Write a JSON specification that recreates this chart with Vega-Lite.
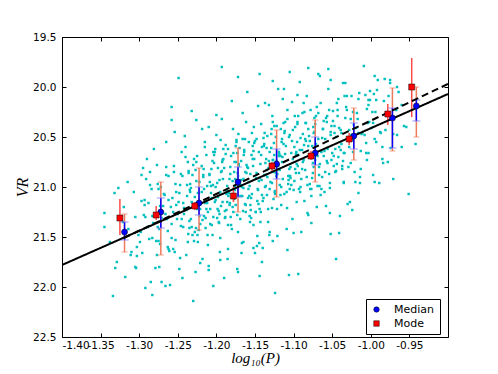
{
"$schema": "https://vega.github.io/schema/vega-lite/v6.json",
"width": 386, "height": 300,
"autosize": {"type": "none"},
"padding": {"left": 62, "top": 37, "right": 50, "bottom": 37},
"background": "white",
"config": {
  "view": {"stroke": "black", "strokeWidth": 1},
  "axis": {"grid": false, "domain": false, "labelFont": "DejaVu Sans", "labelFontSize": 10.5, "labelColor": "black", "tickColor": "black", "tickSize": -4, "tickWidth": 1, "labelPadding": 10, "labelOverlap": false},
  "legend": {"orient": "none", "legendX": 304, "legendY": 262, "strokeColor": "black", "fillColor": "white", "padding": 5, "labelFont": "DejaVu Sans", "labelFontSize": 11, "labelColor": "black", "labelOffset": 12, "rowPadding": 2, "symbolSize": 30, "symbolStrokeColor": "black", "symbolStrokeWidth": 0.5, "cornerRadius": 0}
},
"datasets": {
  "cloud": [
{"x":-1.314,"y":21.42},{"x":-1.307,"y":21.05},{"x":-1.311,"y":21.68},{"x":-1.305,"y":21.30},
{"x":-1.304,"y":21.81},{"x":-1.297,"y":21.14},{"x":-1.301,"y":21.48},{"x":-1.295,"y":20.81},{"x":-1.303,"y":21.69},
{"x":-1.294,"y":21.28},{"x":-1.287,"y":21.52},{"x":-1.291,"y":20.92},{"x":-1.285,"y":21.95},{"x":-1.293,"y":21.18},{"x":-1.289,"y":21.40},
{"x":-1.284,"y":21.02},{"x":-1.277,"y":21.68},{"x":-1.281,"y":20.62},{"x":-1.275,"y":21.54},{"x":-1.283,"y":21.29},{"x":-1.279,"y":21.81},{"x":-1.276,"y":20.97},
{"x":-1.274,"y":21.42},{"x":-1.267,"y":21.08},{"x":-1.271,"y":21.31},{"x":-1.265,"y":20.80},{"x":-1.273,"y":21.57},{"x":-1.269,"y":21.19},{"x":-1.266,"y":21.99},{"x":-1.275,"y":21.02},
{"x":-1.264,"y":21.32},{"x":-1.257,"y":21.11},{"x":-1.261,"y":21.64},{"x":-1.255,"y":20.85},{"x":-1.263,"y":21.44},{"x":-1.259,"y":21.20},{"x":-1.256,"y":21.25},{"x":-1.265,"y":20.88},{"x":-1.258,"y":21.51},{"x":-1.262,"y":21.13},
{"x":-1.254,"y":21.65},{"x":-1.247,"y":20.98},{"x":-1.251,"y":21.32},{"x":-1.245,"y":20.65},{"x":-1.253,"y":21.53},{"x":-1.249,"y":21.15},{"x":-1.246,"y":21.39},{"x":-1.255,"y":20.79},{"x":-1.248,"y":21.82},{"x":-1.252,"y":21.05},{"x":-1.250,"y":21.27},
{"x":-1.244,"y":20.89},{"x":-1.237,"y":21.55},{"x":-1.241,"y":20.49},{"x":-1.235,"y":21.41},{"x":-1.243,"y":21.16},{"x":-1.239,"y":21.68},{"x":-1.236,"y":20.84},{"x":-1.245,"y":21.32},{"x":-1.238,"y":20.98},{"x":-1.242,"y":21.21},{"x":-1.240,"y":20.70},{"x":-1.2365,"y":21.47},
{"x":-1.234,"y":21.05},{"x":-1.227,"y":21.85},{"x":-1.231,"y":20.88},{"x":-1.225,"y":21.22},{"x":-1.233,"y":21.01},{"x":-1.229,"y":21.54},{"x":-1.226,"y":20.75},{"x":-1.235,"y":21.34},{"x":-1.228,"y":21.10},{"x":-1.232,"y":21.15},{"x":-1.230,"y":20.78},{"x":-1.2265,"y":21.41},{"x":-1.2345,"y":21.03},
{"x":-1.224,"y":21.55},{"x":-1.217,"y":20.88},{"x":-1.221,"y":21.22},{"x":-1.215,"y":20.55},{"x":-1.223,"y":21.43},{"x":-1.219,"y":21.05},{"x":-1.216,"y":21.29},{"x":-1.225,"y":20.69},{"x":-1.218,"y":21.72},{"x":-1.222,"y":20.95},{"x":-1.220,"y":21.17},{"x":-1.2165,"y":20.82},{"x":-1.2245,"y":21.48},{"x":-1.2185,"y":20.42},
{"x":-1.214,"y":21.31},{"x":-1.207,"y":21.06},{"x":-1.211,"y":21.58},{"x":-1.205,"y":20.74},{"x":-1.213,"y":21.22},{"x":-1.209,"y":20.88},{"x":-1.206,"y":21.11},{"x":-1.215,"y":20.60},{"x":-1.208,"y":21.37},{"x":-1.212,"y":20.99},{"x":-1.210,"y":21.79},{"x":-1.2065,"y":20.82},{"x":-1.2145,"y":21.16},{"x":-1.2085,"y":20.95},{"x":-1.2115,"y":21.48},
{"x":-1.204,"y":20.65},{"x":-1.197,"y":21.24},{"x":-1.201,"y":21.00},{"x":-1.195,"y":21.05},{"x":-1.203,"y":20.68},{"x":-1.199,"y":21.31},{"x":-1.196,"y":20.93},{"x":-1.205,"y":21.48},{"x":-1.198,"y":20.81},{"x":-1.202,"y":21.15},{"x":-1.200,"y":20.48},{"x":-1.1965,"y":21.36},{"x":-1.2045,"y":20.98},{"x":-1.1985,"y":21.22},{"x":-1.2015,"y":20.62},{"x":-1.1955,"y":21.65},
{"x":-1.194,"y":20.85},{"x":-1.187,"y":21.07},{"x":-1.191,"y":20.72},{"x":-1.185,"y":21.38},{"x":-1.193,"y":20.32},{"x":-1.189,"y":21.24},{"x":-1.186,"y":20.99},{"x":-1.195,"y":21.51},{"x":-1.188,"y":20.67},{"x":-1.192,"y":21.15},{"x":-1.190,"y":20.81},{"x":-1.1865,"y":21.04},{"x":-1.1945,"y":20.53},{"x":-1.1885,"y":21.30},{"x":-1.1915,"y":20.92},{"x":-1.1855,"y":21.72},{"x":-1.1925,"y":20.75},
{"x":-1.184,"y":21.06},{"x":-1.177,"y":20.85},{"x":-1.181,"y":21.38},{"x":-1.175,"y":20.59},{"x":-1.183,"y":21.18},{"x":-1.179,"y":20.94},{"x":-1.176,"y":20.99},{"x":-1.185,"y":20.62},{"x":-1.178,"y":21.25},{"x":-1.182,"y":20.87},{"x":-1.180,"y":21.42},{"x":-1.1765,"y":20.75},{"x":-1.1845,"y":21.09},{"x":-1.1785,"y":20.42},{"x":-1.1815,"y":21.30},{"x":-1.1755,"y":20.92},{"x":-1.1825,"y":21.16},
{"x":-1.174,"y":20.53},{"x":-1.167,"y":21.56},{"x":-1.171,"y":20.79},{"x":-1.165,"y":21.01},{"x":-1.173,"y":20.66},{"x":-1.169,"y":21.32},{"x":-1.166,"y":20.26},{"x":-1.175,"y":21.18},{"x":-1.168,"y":20.93},{"x":-1.172,"y":21.45},{"x":-1.170,"y":20.61},{"x":-1.1665,"y":21.09},{"x":-1.1745,"y":20.75},{"x":-1.1685,"y":20.98},{"x":-1.1715,"y":20.47},{"x":-1.1655,"y":21.24},{"x":-1.1725,"y":20.86},{"x":-1.1675,"y":21.66},
{"x":-1.164,"y":20.65},{"x":-1.157,"y":20.99},{"x":-1.161,"y":20.78},{"x":-1.155,"y":21.31},{"x":-1.163,"y":20.52},{"x":-1.159,"y":21.11},{"x":-1.156,"y":20.87},{"x":-1.165,"y":20.92},{"x":-1.158,"y":20.55},{"x":-1.162,"y":21.18},{"x":-1.160,"y":20.80},{"x":-1.1565,"y":21.35},{"x":-1.1645,"y":20.68},{"x":-1.1585,"y":21.02},{"x":-1.1615,"y":20.35},{"x":-1.1555,"y":21.23},{"x":-1.1625,"y":20.85},{"x":-1.1575,"y":21.09},
{"x":-1.154,"y":20.46},{"x":-1.147,"y":21.49},{"x":-1.151,"y":20.72},{"x":-1.145,"y":20.94},{"x":-1.153,"y":20.59},{"x":-1.149,"y":21.25},{"x":-1.146,"y":20.19},{"x":-1.155,"y":21.11},{"x":-1.148,"y":20.86},{"x":-1.152,"y":21.38},{"x":-1.150,"y":20.54},{"x":-1.1465,"y":21.02},{"x":-1.1545,"y":20.68},{"x":-1.1485,"y":20.91},{"x":-1.1515,"y":20.40},{"x":-1.1455,"y":21.17},{"x":-1.1525,"y":20.79},{"x":-1.1475,"y":21.59},
{"x":-1.144,"y":21.22},{"x":-1.137,"y":20.16},{"x":-1.141,"y":21.08},{"x":-1.135,"y":20.83},{"x":-1.143,"y":21.35},{"x":-1.139,"y":20.51},{"x":-1.136,"y":20.99},{"x":-1.145,"y":20.65},{"x":-1.138,"y":20.88},{"x":-1.142,"y":20.37},{"x":-1.140,"y":21.14},{"x":-1.1365,"y":20.76},{"x":-1.1445,"y":21.56},{"x":-1.1385,"y":20.59},{"x":-1.1415,"y":20.93},{"x":-1.1355,"y":20.72},{"x":-1.1425,"y":21.25},{"x":-1.1375,"y":20.46},
{"x":-1.134,"y":20.90},{"x":-1.127,"y":20.35},{"x":-1.131,"y":21.02},{"x":-1.125,"y":20.68},{"x":-1.133,"y":21.35},{"x":-1.129,"y":20.47},{"x":-1.126,"y":20.85},{"x":-1.135,"y":20.61},{"x":-1.128,"y":21.21},{"x":-1.132,"y":20.18},{"x":-1.130,"y":20.95},{"x":-1.1265,"y":20.73},{"x":-1.1345,"y":21.08},{"x":-1.1285,"y":20.42},{"x":-1.1315,"y":21.48},{"x":-1.1255,"y":20.56},{"x":-1.1325,"y":20.81},{"x":-1.1275,"y":20.29},
{"x":-1.124,"y":21.07},{"x":-1.117,"y":20.69},{"x":-1.121,"y":21.49},{"x":-1.115,"y":20.52},{"x":-1.123,"y":20.86},{"x":-1.119,"y":20.65},{"x":-1.116,"y":21.18},{"x":-1.125,"y":20.39},{"x":-1.118,"y":20.98},{"x":-1.122,"y":20.74},{"x":-1.120,"y":20.79},{"x":-1.1165,"y":20.42},{"x":-1.1245,"y":21.05},{"x":-1.1185,"y":20.67},{"x":-1.1215,"y":21.22},{"x":-1.1155,"y":20.55},{"x":-1.1225,"y":20.89},
{"x":-1.114,"y":20.12},{"x":-1.107,"y":20.89},{"x":-1.111,"y":20.67},{"x":-1.105,"y":21.02},{"x":-1.113,"y":20.36},{"x":-1.109,"y":21.42},{"x":-1.106,"y":20.50},{"x":-1.115,"y":20.75},{"x":-1.108,"y":20.23},{"x":-1.112,"y":21.07},{"x":-1.110,"y":20.59},{"x":-1.1065,"y":20.93},{"x":-1.1145,"y":20.70},{"x":-1.1085,"y":21.21},{"x":-1.1115,"y":20.44},{"x":-1.1055,"y":20.82},{"x":-1.1125,"y":20.02},
{"x":-1.104,"y":20.91},{"x":-1.097,"y":20.67},{"x":-1.101,"y":20.72},{"x":-1.095,"y":20.35},{"x":-1.103,"y":20.98},{"x":-1.099,"y":20.60},{"x":-1.096,"y":21.15},{"x":-1.105,"y":20.48},{"x":-1.098,"y":20.82},{"x":-1.102,"y":20.15},{"x":-1.100,"y":21.03},{"x":-1.0965,"y":20.65},{"x":-1.1045,"y":20.89},{"x":-1.0985,"y":20.29},{"x":-1.1015,"y":21.32},{"x":-1.0955,"y":20.55},
{"x":-1.094,"y":20.68},{"x":-1.087,"y":20.16},{"x":-1.091,"y":21.00},{"x":-1.085,"y":20.52},{"x":-1.093,"y":20.86},{"x":-1.089,"y":20.63},{"x":-1.086,"y":21.14},{"x":-1.095,"y":20.37},{"x":-1.088,"y":20.75},{"x":-1.092,"y":19.95},{"x":-1.090,"y":20.92},{"x":-1.0865,"y":20.58},{"x":-1.0945,"y":20.79},{"x":-1.0885,"y":20.26},{"x":-1.0915,"y":21.05},
{"x":-1.084,"y":20.54},{"x":-1.077,"y":21.09},{"x":-1.081,"y":20.42},{"x":-1.075,"y":20.76},{"x":-1.083,"y":20.09},{"x":-1.079,"y":20.97},{"x":-1.076,"y":20.59},{"x":-1.085,"y":20.83},{"x":-1.078,"y":20.23},{"x":-1.082,"y":21.26},{"x":-1.080,"y":20.49},{"x":-1.0765,"y":20.71},{"x":-1.0845,"y":20.36},{"x":-1.0785,"y":21.02},
{"x":-1.074,"y":20.46},{"x":-1.067,"y":20.80},{"x":-1.071,"y":20.57},{"x":-1.065,"y":21.08},{"x":-1.073,"y":20.31},{"x":-1.069,"y":20.69},{"x":-1.066,"y":19.89},{"x":-1.075,"y":20.86},{"x":-1.068,"y":20.52},{"x":-1.072,"y":20.73},{"x":-1.070,"y":20.20},{"x":-1.0665,"y":20.99},{"x":-1.0745,"y":20.40},
{"x":-1.064,"y":21.02},{"x":-1.057,"y":20.35},{"x":-1.061,"y":20.69},{"x":-1.055,"y":20.02},{"x":-1.063,"y":20.90},{"x":-1.059,"y":20.52},{"x":-1.056,"y":20.76},{"x":-1.065,"y":20.16},{"x":-1.058,"y":21.19},{"x":-1.062,"y":20.42},{"x":-1.060,"y":20.64},{"x":-1.0565,"y":20.29},
{"x":-1.054,"y":20.87},{"x":-1.047,"y":20.39},{"x":-1.051,"y":20.73},{"x":-1.045,"y":20.50},{"x":-1.053,"y":21.01},{"x":-1.049,"y":20.24},{"x":-1.046,"y":20.62},{"x":-1.055,"y":19.82},{"x":-1.048,"y":20.79},{"x":-1.052,"y":20.45},{"x":-1.050,"y":20.66},
{"x":-1.044,"y":20.16},{"x":-1.037,"y":20.79},{"x":-1.041,"y":20.41},{"x":-1.035,"y":20.96},{"x":-1.043,"y":20.29},{"x":-1.039,"y":20.63},{"x":-1.036,"y":19.96},{"x":-1.045,"y":20.84},{"x":-1.038,"y":20.46},{"x":-1.042,"y":20.70},
{"x":-1.034,"y":20.09},{"x":-1.027,"y":21.15},{"x":-1.031,"y":20.23},{"x":-1.025,"y":20.48},{"x":-1.033,"y":19.96},{"x":-1.029,"y":20.80},{"x":-1.026,"y":20.32},{"x":-1.035,"y":20.66},{"x":-1.028,"y":20.43},
{"x":-1.024,"y":20.53},{"x":-1.017,"y":20.32},{"x":-1.021,"y":20.85},{"x":-1.015,"y":20.06},{"x":-1.023,"y":20.65},{"x":-1.019,"y":20.41},{"x":-1.016,"y":20.46},{"x":-1.025,"y":20.09},
{"x":-1.014,"y":20.96},{"x":-1.007,"y":20.08},{"x":-1.011,"y":20.46},{"x":-1.005,"y":20.22},{"x":-1.013,"y":20.82},{"x":-1.009,"y":19.79},{"x":-1.006,"y":20.56},
{"x":-1.004,"y":20.36},{"x":-0.997,"y":20.88},{"x":-1.001,"y":20.04},{"x":-0.995,"y":20.52},{"x":-1.003,"y":20.18},{"x":-0.999,"y":20.41},
{"x":-0.994,"y":20.25},{"x":-0.987,"y":20.46},{"x":-0.991,"y":19.93},{"x":-0.985,"y":20.72},{"x":-0.993,"y":20.13},
{"x":-0.984,"y":20.76},{"x":-0.977,"y":20.09},{"x":-0.981,"y":20.43},{"x":-0.975,"y":19.96},
{"x":-0.974,"y":20.61},{"x":-0.967,"y":20.23},{"x":-0.971,"y":20.47},
{"x":-0.964,"y":20.05},{"x":-0.957,"y":20.39},
{"x":-1.238,"y":21.09},{"x":-1.233,"y":21.32},{"x":-1.236,"y":20.86},{"x":-1.231,"y":21.48},{"x":-1.239,"y":21.23},{"x":-1.234,"y":20.97},{"x":-1.232,"y":21.40},{"x":-1.237,"y":20.75},
{"x":-1.228,"y":21.45},{"x":-1.223,"y":21.20},{"x":-1.226,"y":20.94},{"x":-1.221,"y":21.37},{"x":-1.229,"y":20.72},{"x":-1.224,"y":21.06},{"x":-1.222,"y":21.29},{"x":-1.227,"y":20.83},
{"x":-1.218,"y":21.33},{"x":-1.213,"y":20.68},{"x":-1.216,"y":21.02},{"x":-1.211,"y":21.25},{"x":-1.219,"y":20.79},{"x":-1.214,"y":21.41},{"x":-1.212,"y":21.16},{"x":-1.217,"y":20.90},
{"x":-1.208,"y":21.22},{"x":-1.203,"y":20.76},{"x":-1.206,"y":21.38},{"x":-1.201,"y":21.13},{"x":-1.209,"y":20.87},{"x":-1.204,"y":21.30},{"x":-1.202,"y":20.65},{"x":-1.207,"y":20.99},
{"x":-1.198,"y":21.10},{"x":-1.193,"y":20.84},{"x":-1.196,"y":21.27},{"x":-1.191,"y":20.62},{"x":-1.199,"y":20.96},{"x":-1.194,"y":21.19},{"x":-1.192,"y":20.73},{"x":-1.197,"y":21.35},
{"x":-1.188,"y":20.58},{"x":-1.183,"y":20.92},{"x":-1.186,"y":21.15},{"x":-1.181,"y":20.69},{"x":-1.189,"y":21.31},{"x":-1.184,"y":21.06},{"x":-1.182,"y":20.80},{"x":-1.187,"y":21.23},
{"x":-1.178,"y":20.66},{"x":-1.173,"y":21.28},{"x":-1.176,"y":21.03},{"x":-1.171,"y":20.77},{"x":-1.179,"y":21.20},{"x":-1.174,"y":20.55},{"x":-1.172,"y":20.89},{"x":-1.177,"y":21.12},
{"x":-1.168,"y":20.74},{"x":-1.163,"y":21.17},{"x":-1.166,"y":20.52},{"x":-1.161,"y":20.86},{"x":-1.169,"y":21.09},{"x":-1.164,"y":20.63},{"x":-1.162,"y":21.25},{"x":-1.167,"y":21.00},
{"x":-1.158,"y":20.95},{"x":-1.153,"y":20.72},{"x":-1.156,"y":21.18},{"x":-1.151,"y":20.56},{"x":-1.159,"y":20.81},{"x":-1.154,"y":21.07},{"x":-1.152,"y":20.64},{"x":-1.157,"y":21.29},
{"x":-1.148,"y":20.52},{"x":-1.143,"y":20.77},{"x":-1.146,"y":21.03},{"x":-1.141,"y":20.60},{"x":-1.149,"y":21.25},{"x":-1.144,"y":20.91},{"x":-1.142,"y":20.68},{"x":-1.147,"y":21.14},
{"x":-1.138,"y":20.57},{"x":-1.133,"y":21.22},{"x":-1.136,"y":20.88},{"x":-1.131,"y":20.65},{"x":-1.139,"y":21.11},{"x":-1.134,"y":20.49},{"x":-1.132,"y":20.74},{"x":-1.137,"y":21.00},
{"x":-1.128,"y":20.96},{"x":-1.123,"y":20.50},{"x":-1.126,"y":21.12},{"x":-1.121,"y":20.87},{"x":-1.129,"y":20.61},{"x":-1.124,"y":21.04},{"x":-1.122,"y":20.39},{"x":-1.127,"y":20.73},
{"x":-1.118,"y":20.83},{"x":-1.113,"y":20.57},{"x":-1.116,"y":21.00},{"x":-1.111,"y":20.35},{"x":-1.119,"y":20.69},{"x":-1.114,"y":20.92},{"x":-1.112,"y":20.46},{"x":-1.117,"y":21.08},
{"x":-1.108,"y":20.32},{"x":-1.103,"y":20.66},{"x":-1.106,"y":20.89},{"x":-1.101,"y":20.43},{"x":-1.109,"y":21.05},{"x":-1.104,"y":20.80},{"x":-1.102,"y":20.54},{"x":-1.107,"y":20.97},
{"x":-1.098,"y":20.40},{"x":-1.093,"y":21.02},{"x":-1.096,"y":20.77},{"x":-1.091,"y":20.51},{"x":-1.099,"y":20.94},{"x":-1.094,"y":20.29},{"x":-1.092,"y":20.63},{"x":-1.097,"y":20.86},
{"x":-1.088,"y":20.47},{"x":-1.083,"y":20.90},{"x":-1.086,"y":20.25},{"x":-1.081,"y":20.59},{"x":-1.089,"y":20.82},{"x":-1.084,"y":20.36},{"x":-1.082,"y":20.98},{"x":-1.087,"y":20.73},
{"x":-1.078,"y":20.68},{"x":-1.073,"y":20.45},{"x":-1.076,"y":20.91},{"x":-1.071,"y":20.29},{"x":-1.079,"y":20.54},{"x":-1.074,"y":20.80},{"x":-1.072,"y":20.37},{"x":-1.077,"y":21.02},
{"x":-1.068,"y":20.26},{"x":-1.063,"y":20.51},{"x":-1.066,"y":20.77},{"x":-1.061,"y":20.34},{"x":-1.069,"y":20.99},{"x":-1.064,"y":20.65},{"x":-1.062,"y":20.42},{"x":-1.067,"y":20.88},
{"x":-1.058,"y":20.31},{"x":-1.053,"y":20.96},{"x":-1.056,"y":20.62},{"x":-1.051,"y":20.39},{"x":-1.059,"y":20.85},{"x":-1.054,"y":20.23},{"x":-1.052,"y":20.48},{"x":-1.057,"y":20.74},
{"x":-1.048,"y":20.69},{"x":-1.043,"y":20.23},{"x":-1.046,"y":20.85},{"x":-1.041,"y":20.60},{"x":-1.049,"y":20.34},{"x":-1.044,"y":20.77},{"x":-1.042,"y":20.12},{"x":-1.047,"y":20.46},
{"x":-1.038,"y":20.57},{"x":-1.033,"y":20.31},{"x":-1.036,"y":20.74},{"x":-1.031,"y":20.09},{"x":-1.039,"y":20.43},{"x":-1.034,"y":20.66},{"x":-1.032,"y":20.20},{"x":-1.037,"y":20.82},
{"x":-1.298,"y":21.45},{"x":-1.293,"y":21.13},{"x":-1.296,"y":21.66},{"x":-1.292,"y":21.30},
{"x":-1.288,"y":21.16},{"x":-1.283,"y":21.51},{"x":-1.286,"y":20.98},{"x":-1.282,"y":21.36},
{"x":-1.278,"y":21.54},{"x":-1.273,"y":21.19},{"x":-1.276,"y":21.40},{"x":-1.272,"y":21.00},
{"x":-1.268,"y":21.07},{"x":-1.263,"y":21.60},{"x":-1.266,"y":21.27},{"x":-1.262,"y":20.89},
{"x":-1.258,"y":21.37},{"x":-1.253,"y":20.97},{"x":-1.256,"y":21.62},{"x":-1.252,"y":21.18},
{"x":-1.248,"y":21.06},{"x":-1.243,"y":21.40},{"x":-1.246,"y":20.87},{"x":-1.242,"y":21.27},
{"x":-1.028,"y":20.60},{"x":-1.023,"y":20.25},{"x":-1.026,"y":20.76},{"x":-1.022,"y":20.38},
{"x":-1.018,"y":20.26},{"x":-1.013,"y":20.64},{"x":-1.016,"y":20.12},{"x":-1.012,"y":20.47},
{"x":-1.008,"y":20.48},{"x":-1.003,"y":20.13},{"x":-1.006,"y":20.66},{"x":-1.002,"y":20.35},
{"x":-0.998,"y":20.25},{"x":-0.993,"y":20.55},{"x":-0.996,"y":20.07},
{"x":-0.988,"y":20.45},{"x":-0.983,"y":20.14},
{"x":-1.193,"y":19.80},{"x":-1.105,"y":19.85},{"x":-1.081,"y":19.81},{"x":-1.172,"y":19.90},{"x":-1.249,"y":19.91},{"x":-1.144,"y":19.87},{"x":-1.127,"y":19.94},{"x":-1.068,"y":19.87},{"x":-1.052,"y":19.93},{"x":-0.995,"y":19.89},{"x":-0.982,"y":19.92},{"x":-1.180,"y":20.14},{"x":-1.258,"y":20.20},{"x":-1.258,"y":20.33},{"x":-1.286,"y":20.85},{"x":-1.297,"y":20.88},{"x":-1.277,"y":20.78},{"x":-1.290,"y":20.72},{"x":-1.254,"y":20.45},{"x":-1.232,"y":20.24},{"x":-1.226,"y":20.33},
{"x":-1.345,"y":21.26},{"x":-1.332,"y":21.06},{"x":-1.327,"y":21.01},{"x":-1.331,"y":21.81},{"x":-1.329,"y":21.75},{"x":-1.334,"y":22.09},{"x":-1.292,"y":22.01},{"x":-1.283,"y":22.08},{"x":-1.271,"y":21.95},{"x":-1.260,"y":21.98},{"x":-1.244,"y":21.91},{"x":-1.230,"y":22.14},{"x":-1.204,"y":21.99},{"x":-1.210,"y":21.83},{"x":-1.190,"y":21.91},{"x":-1.173,"y":21.82},{"x":-1.172,"y":21.85},{"x":-1.303,"y":21.60},{"x":-1.299,"y":21.55},{"x":-1.310,"y":21.65},{"x":-1.274,"y":21.80},{"x":-1.247,"y":21.71},{"x":-1.221,"y":21.76},{"x":-1.195,"y":21.73},
{"x":-1.124,"y":22.06},{"x":-1.144,"y":21.89},{"x":-1.106,"y":21.88},{"x":-1.094,"y":21.87},{"x":-1.141,"y":21.75},{"x":-1.108,"y":21.63},{"x":-1.045,"y":21.72},{"x":-1.052,"y":21.47},{"x":-1.041,"y":21.46},{"x":-1.150,"y":21.66},{"x":-1.152,"y":21.61},{"x":-1.140,"y":21.61},{"x":-0.951,"y":21.07},{"x":-1.040,"y":21.29},{"x":-1.024,"y":21.23},{"x":-1.030,"y":21.17},{"x":-1.016,"y":21.06},{"x":-0.995,"y":20.95},{"x":-1.053,"y":21.26},{"x":-1.077,"y":21.36},{"x":-1.081,"y":21.28},{"x":-1.100,"y":21.46},{"x":-1.127,"y":21.54},{"x":-1.131,"y":21.45},
{"x":-0.942,"y":20.57},{"x":-0.971,"y":20.92},{"x":-0.960,"y":20.60},{"x":-0.966,"y":20.48},{"x":-0.954,"y":20.40},{"x":-0.975,"y":19.93},{"x":-0.966,"y":20.00},{"x":-0.960,"y":20.18},{"x":-0.992,"y":20.03},{"x":-1.001,"y":20.13},{"x":-0.989,"y":20.96},{"x":-1.005,"y":20.73},{"x":-1.014,"y":20.90},{"x":-1.003,"y":20.66},{"x":-0.997,"y":20.36},
{"x":-1.160,"y":20.05},{"x":-1.120,"y":20.02},{"x":-1.095,"y":20.08},{"x":-1.210,"y":20.40},{"x":-1.200,"y":20.28},{"x":-1.240,"y":20.60},{"x":-1.265,"y":20.55},{"x":-1.315,"y":20.95},{"x":-1.320,"y":21.20},{"x":-1.321,"y":21.35},{"x":-1.338,"y":21.55},{"x":-1.345,"y":21.40},{"x":-1.318,"y":21.90},{"x":-1.305,"y":21.80},{"x":-1.262,"y":21.62},{"x":-1.185,"y":21.62},{"x":-1.165,"y":21.55},{"x":-1.090,"y":21.45},{"x":-1.060,"y":21.05},{"x":-1.035,"y":20.95},{"x":-1.070,"y":21.20},{"x":-1.020,"y":20.95},{"x":-0.985,"y":20.60},{"x":-0.978,"y":20.75}
  ],
  "stats": [
{"kind":"Median","x":-1.319,"y":21.45,"lo":21.35,"hi":21.53,"slo":21.27,"shi":21.65},
{"kind":"Median","x":-1.272,"y":21.25,"lo":21.11,"hi":21.41,"slo":20.95,"shi":21.68},
{"kind":"Median","x":-1.2225,"y":21.16,"lo":21.00,"hi":21.28,"slo":20.81,"shi":21.43},
{"kind":"Median","x":-1.172,"y":20.95,"lo":20.80,"hi":21.10,"slo":20.61,"shi":21.25},
{"kind":"Median","x":-1.122,"y":20.77,"lo":20.62,"hi":20.92,"slo":20.43,"shi":21.10},
{"kind":"Median","x":-1.072,"y":20.66,"lo":20.50,"hi":20.78,"slo":20.33,"shi":20.95},
{"kind":"Median","x":-1.022,"y":20.49,"lo":20.36,"hi":20.62,"slo":20.21,"shi":20.73},
{"kind":"Median","x":-0.972,"y":20.31,"lo":20.21,"hi":20.61,"slo":20.01,"shi":20.64},
{"kind":"Median","x":-0.941,"y":20.19,"lo":20.13,"hi":20.34,"slo":20.00,"shi":20.50},
{"kind":"Mode","x":-1.325,"y":21.31,"lo":21.12,"hi":21.48},
{"kind":"Mode","x":-1.278,"y":21.28,"lo":21.19,"hi":21.33},
{"kind":"Mode","x":-1.228,"y":21.19,"lo":21.15,"hi":21.23},
{"kind":"Mode","x":-1.178,"y":21.09,"lo":21.00,"hi":21.15},
{"kind":"Mode","x":-1.128,"y":20.79,"lo":20.75,"hi":20.84},
{"kind":"Mode","x":-1.0775,"y":20.69,"lo":20.64,"hi":20.73},
{"kind":"Mode","x":-1.028,"y":20.52,"lo":20.46,"hi":20.58},
{"kind":"Mode","x":-0.978,"y":20.27,"lo":20.17,"hi":20.38},
{"kind":"Mode","x":-0.947,"y":20.00,"lo":19.71,"hi":20.30}
  ],
  "fits": [
{"line":"fit","x":-1.40,"y":21.78},{"line":"fit","x":-0.90,"y":20.07},
{"line":"dash","x":-1.32,"y":21.51},{"line":"dash","x":-0.90,"y":19.97}
  ]
},
"resolve": {"axis": {"x": "independent", "y": "independent"}},
"layer": [
  {
    "data": {"name": "cloud"},
    "mark": {"type": "square", "filled": true, "size": 6, "color": "#00BFBF", "opacity": 1, "clip": true},
    "encoding": {
      "x": {"field": "x", "type": "quantitative", "scale": {"domain": [-1.4, -0.9], "nice": false, "zero": false},
        "axis": {"orient": "bottom", "values": [-1.4, -1.35, -1.3, -1.25, -1.2, -1.15, -1.1, -1.05, -1.0, -0.95], "labelExpr": "replace(format(datum.value, '.2f'), '−', '-')", "labelPadding": 7, "title": "log₁₀(P)", "titleFont": "Liberation Serif", "titleFontStyle": "italic", "titleFontWeight": "normal", "titleFontSize": 15, "titleColor": "black", "titlePadding": 0}},
      "y": {"field": "y", "type": "quantitative", "scale": {"domain": [19.5, 22.5], "reverse": true, "nice": false, "zero": false},
        "axis": {"orient": "left", "values": [19.5, 20, 20.5, 21, 21.5, 22, 22.5], "format": ".1f", "title": "VR", "titleFont": "Liberation Serif", "titleFontStyle": "italic", "titleFontWeight": "normal", "titleFontSize": 16, "titleColor": "black", "titlePadding": 2}}
    }
  },
  {
    "data": {"name": "stats"},
    "transform": [{"filter": "datum.kind == 'Median'"}],
    "mark": {"type": "rule", "color": "#EC7A5C", "strokeWidth": 1.5},
    "encoding": {"x": {"field": "x", "type": "quantitative", "axis": null}, "y": {"field": "slo", "type": "quantitative", "axis": null}, "y2": {"field": "shi"}}
  },
  {
    "data": {"name": "stats"},
    "transform": [{"filter": "datum.kind == 'Median'"}],
    "mark": {"type": "tick", "orient": "horizontal", "color": "#EC7A5C", "size": 6, "thickness": 1},
    "encoding": {"x": {"field": "x", "type": "quantitative", "axis": null}, "y": {"field": "slo", "type": "quantitative", "axis": null}}
  },
  {
    "data": {"name": "stats"},
    "transform": [{"filter": "datum.kind == 'Median'"}],
    "mark": {"type": "tick", "orient": "horizontal", "color": "#EC7A5C", "size": 6, "thickness": 1},
    "encoding": {"x": {"field": "x", "type": "quantitative", "axis": null}, "y": {"field": "shi", "type": "quantitative", "axis": null}}
  },
  {
    "data": {"name": "stats"},
    "transform": [{"filter": "datum.kind == 'Mode'"}],
    "mark": {"type": "rule", "color": "#FF4A4A", "strokeWidth": 1.5},
    "encoding": {"x": {"field": "x", "type": "quantitative", "axis": null}, "y": {"field": "lo", "type": "quantitative", "axis": null}, "y2": {"field": "hi"}}
  },
  {
    "data": {"name": "stats"},
    "transform": [{"filter": "datum.kind == 'Median'"}],
    "mark": {"type": "rule", "color": "#0000FF", "strokeWidth": 1.5},
    "encoding": {"x": {"field": "x", "type": "quantitative", "axis": null}, "y": {"field": "lo", "type": "quantitative", "axis": null}, "y2": {"field": "hi"}}
  },
  {
    "data": {"name": "stats"},
    "transform": [{"filter": "datum.kind == 'Median'"}],
    "mark": {"type": "tick", "orient": "horizontal", "color": "#7F7FFF", "size": 8, "thickness": 1.2},
    "encoding": {"x": {"field": "x", "type": "quantitative", "axis": null}, "y": {"field": "lo", "type": "quantitative", "axis": null}}
  },
  {
    "data": {"name": "stats"},
    "transform": [{"filter": "datum.kind == 'Median'"}],
    "mark": {"type": "tick", "orient": "horizontal", "color": "#7F7FFF", "size": 8, "thickness": 1.2},
    "encoding": {"x": {"field": "x", "type": "quantitative", "axis": null}, "y": {"field": "hi", "type": "quantitative", "axis": null}}
  },
  {
    "data": {"name": "fits"},
    "mark": {"type": "line", "color": "black", "strokeWidth": 2, "clip": true},
    "encoding": {
      "x": {"field": "x", "type": "quantitative", "axis": {"orient": "top", "values": [-1.4, -1.35, -1.3, -1.25, -1.2, -1.15, -1.1, -1.05, -1.0, -0.95], "labels": false, "title": null}},
      "y": {"field": "y", "type": "quantitative", "axis": {"orient": "right", "values": [19.5, 20, 20.5, 21, 21.5, 22, 22.5], "labels": false, "title": null}},
      "detail": {"field": "line", "type": "nominal"},
      "strokeDash": {"field": "line", "type": "nominal", "scale": {"domain": ["fit", "dash"], "range": [[1, 0], [7, 4]]}, "legend": null}
    }
  },
  {
    "data": {"name": "stats"},
    "mark": {"type": "point", "filled": true, "size": 36, "stroke": "black", "strokeWidth": 0.5, "opacity": 1},
    "encoding": {
      "x": {"field": "x", "type": "quantitative", "axis": null},
      "y": {"field": "y", "type": "quantitative", "axis": null},
      "color": {"field": "kind", "type": "nominal", "scale": {"domain": ["Median", "Mode"], "range": ["#0000FF", "#FF0000"]}, "legend": {"title": null}},
      "shape": {"field": "kind", "type": "nominal", "scale": {"domain": ["Median", "Mode"], "range": ["circle", "square"]}, "legend": {"title": null}}
    }
  }
]
}
